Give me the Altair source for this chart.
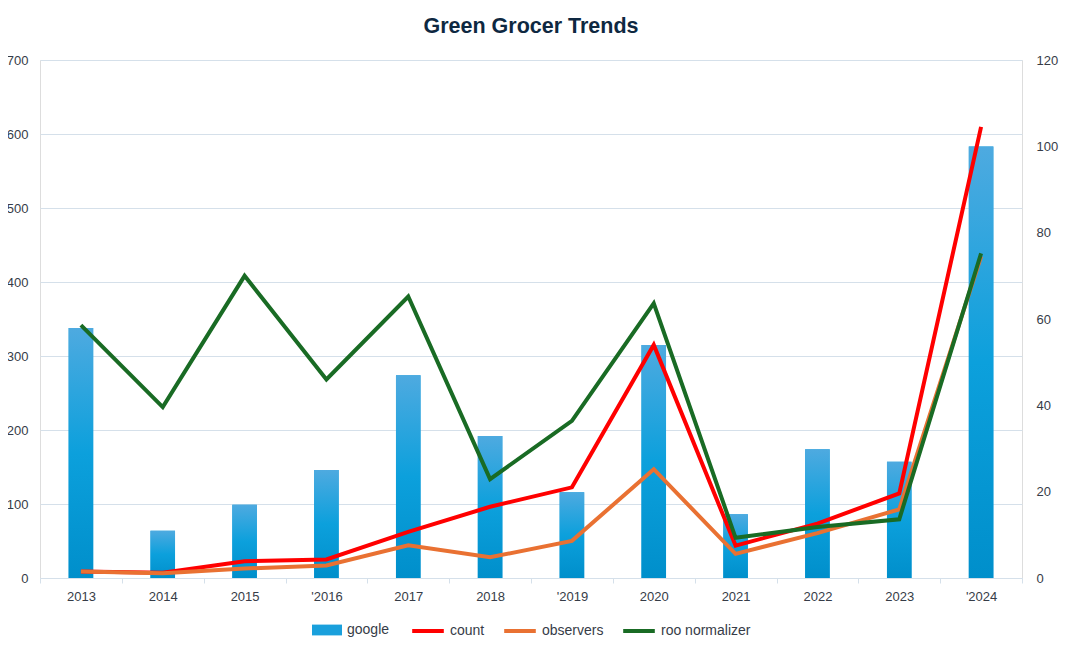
import altair as alt
import pandas as pd

years = ["2013", "2014", "2015", "'2016", "2017", "2018", "'2019", "2020", "2021", "2022", "2023", "'2024"]
google = [338, 64, 99, 146, 274, 192, 116, 315, 86, 174, 157, 583]
count = [1.5, 1.2, 3.9, 4.3, 10.7, 16.5, 21.0, 54.0, 7.5, 12.6, 19.6, 104.5]
observers = [1.5, 1.1, 2.2, 2.9, 7.6, 4.8, 8.6, 25.2, 5.6, 10.4, 15.9, 74.5]
roo = [58.6, 39.6, 70.0, 46.0, 65.2, 22.9, 36.4, 63.6, 9.3, 11.8, 13.6, 75.2]

bar_df = pd.DataFrame({"year": years, "value": google, "series": ["google"] * len(years)})
line_names = ["count", "observers", "roo normalizer"]
line_vals = [count, observers, roo]
rows = []
for k, (name, vals) in enumerate(zip(line_names, line_vals)):
    for y, v in zip(years, vals):
        rows.append({"year": y, "value": v, "series": name, "order": k})
line_df = pd.DataFrame(rows)

FONT = "Liberation Sans"
TXT = "#363c47"
GRID = "#d5e0ea"

x_enc = alt.X(
    "year:N",
    sort=years,
    scale=alt.Scale(paddingInner=0, paddingOuter=0),
    axis=alt.Axis(
        title=None, labelAngle=0, grid=False, tickBand="extent",
        domainColor=GRID, tickColor=GRID, tickSize=5,
        labelColor=TXT, labelFontSize=13, labelFont=FONT, labelPadding=7,
    ),
)

y_left = alt.Y(
    "value:Q",
    scale=alt.Scale(domain=[0, 700], nice=False),
    axis=alt.Axis(
        title=None, values=[0, 100, 200, 300, 400, 500, 600, 700],
        grid=True, gridColor=GRID, domain=False, ticks=False,
        labelColor=TXT, labelFontSize=13, labelFont=FONT, labelPadding=12,
    ),
)

bar_solid = alt.Chart(bar_df).mark_bar(width=alt.RelativeBandSize(0.3)).encode(
    x=x_enc,
    y=y_left,
    fill=alt.Fill(
        "series:N",
        scale=alt.Scale(domain=["google"], range=["#1aa0dc"]),
        legend=alt.Legend(
            title=None, orient="none", legendX=272, legendY=555, direction="horizontal",
            symbolType="M-1,-0.36H1V0.36H-1Z", symbolSize=900, symbolStrokeWidth=0,
            labelFont=FONT, labelFontSize=14, labelColor=TXT, labelOffset=5, padding=0,
        ),
    ),
)

bar_grad = alt.Chart(bar_df).mark_bar(
    width=alt.RelativeBandSize(0.3),
    color=alt.LinearGradient(
        gradient="linear",
        stops=[
            alt.GradientStop(color="#4eaae0", offset=0),
            alt.GradientStop(color="#0ca0dc", offset=0.5),
            alt.GradientStop(color="#008fcb", offset=1),
        ],
        x1=0, x2=0, y1=0, y2=1,
    ),
).encode(x=x_enc, y=y_left)

bars = alt.layer(bar_solid, bar_grad)

lines = alt.Chart(line_df).mark_line(strokeWidth=4, strokeJoin="miter").encode(
    x=x_enc,
    y=alt.Y(
        "value:Q",
        scale=alt.Scale(domain=[0, 120], nice=False),
        axis=alt.Axis(
            title=None, orient="right", values=[0, 20, 40, 60, 80, 100, 120],
            grid=False, domain=False, ticks=False,
            labelColor=TXT, labelFontSize=13, labelFont=FONT, labelPadding=14,
        ),
    ),
    stroke=alt.Stroke(
        "series:N",
        sort=line_names,
        scale=alt.Scale(domain=line_names, range=["#ff0000", "#e97132", "#196b24"]),
        legend=alt.Legend(
            title=None, orient="none", legendX=370, legendY=553, direction="horizontal",
            symbolType="stroke", symbolSize=1000, symbolStrokeWidth=4,
            labelFont=FONT, labelFontSize=14, labelColor=TXT, labelOffset=4,
            columnPadding=11, padding=0,
        ),
    ),
    order=alt.Order("order:Q"),
    detail="series:N",
)

chart = (
    alt.layer(bars, lines)
    .resolve_scale(y="independent", fill="independent", stroke="independent")
    .properties(
        width=982,
        height=518,
        autosize=alt.AutoSizeParams(type="none"),
        padding={"left": 32, "top": 52, "right": 38, "bottom": 62},
        title=alt.TitleParams(
            "Green Grocer Trends", font=FONT, fontSize=21.5, fontWeight="bold",
            color="#0e2841", anchor="middle", frame="group", offset=17,
        ),
    )
    .configure_view(stroke=None)
    .configure(background="white")
)

chart.save("out.html", embed_options={"renderer": "svg", "actions": False})
